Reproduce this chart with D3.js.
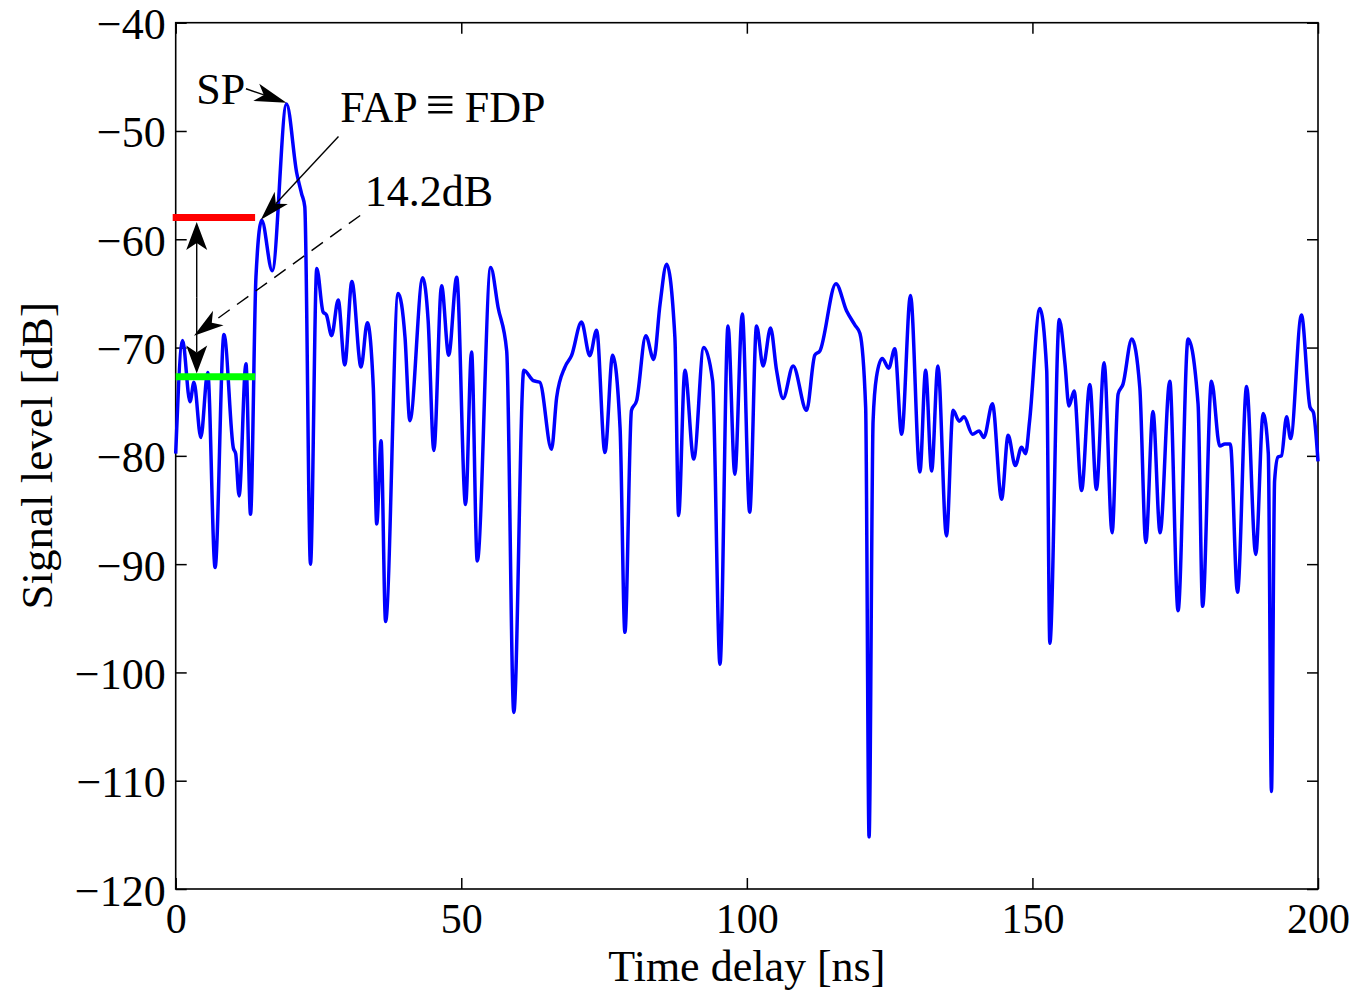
<!DOCTYPE html>
<html>
<head>
<meta charset="utf-8">
<script src="https://cdn.jsdelivr.net/npm/d3@7"></script>
<style>
  body { margin: 0; background: #fff; }
  text { font-family: 'Liberation Serif', 'Times New Roman', serif; fill: #000; }
</style>
</head>
<body>
<div id="chart"></div>
<script>
// time delay [ns] and signal level [dB]
let delayNs = [
  0, 1.2, 2.5, 3.2, 4.4, 5.6, 6.9, 8.45, 10.1, 10.5, 11.1, 12.3, 13.1, 14.05, 15.05, 16.9,
  19.4, 21.2, 22.05, 22.6, 23.6, 24.7, 25.8, 26.4, 27.3, 28.45, 29.6, 30.85, 32.45, 33.55,
  34.6, 35.2, 35.95, 36.75, 38.95, 40.15, 41.0, 43.25, 44.2, 45.2, 46.55, 47.8, 49.2, 50.75,
  51.8, 52.8, 55.15, 56.45, 57.95, 59.2, 60.95, 62.6, 63.75, 65.8, 66.7, 68.15, 69.3, 71.05,
  72.5, 73.7, 75.15, 76.5, 77.8, 78.65, 79.8, 80.7, 82.3, 83.7, 84.8, 85.95, 87.4, 88.05,
  89.15, 90.7, 92.45, 94.0, 95.3, 96.7, 97.9, 99.2, 100.5, 101.7, 102.85, 104.15, 105.2,
  106.35, 108.1, 110.45, 111.9, 112.8, 115.6, 117.45, 118.9, 119.8, 120.8, 121.4, 122.1,
  122.7, 123.7, 124.85, 125.9, 127.1, 128.65, 130.3, 131.3, 132.35, 133.45, 134.95, 136.1,
  137.2, 138.0, 139.5, 140.65, 141.5, 143.0, 144.6, 145.75, 147.0, 148.1, 148.8, 149.5,
  151.3, 152.5, 153.05, 154.7, 155.7, 156.4, 157.3, 158.6, 160.05, 161.2, 162.55, 163.95,
  165.0, 165.85, 167.4, 168.8, 169.85, 171.1, 172.35, 174.05, 175.5, 177.25, 179.0, 179.8,
  181.35, 182.8, 183.7, 184.65, 185.9, 187.5, 189.1, 190.4, 191.3, 191.85, 192.4, 193.0,
  193.6, 194.5, 195.2, 197.1, 198.6, 199.2, 200
]
let levelDb = [
  -79.8, -69.35, -75.0, -73.2, -78.3, -72.3, -90.3, -68.8, -79.3, -79.8, -83.7, -71.5, -85.4, -63.5, -58.25, -62.9,
  -47.5, -53.9, -55.8, -57.0, -90.0, -62.7, -66.7, -67.0, -68.9, -65.6, -71.6, -63.9, -71.8, -67.7,
  -73.7, -86.3, -78.6, -95.3, -65.0, -69.05, -76.75, -63.55, -67.5, -79.5, -64.3, -70.7, -63.5, -84.5,
  -70.4, -89.7, -62.6, -66.3, -70.3, -103.7, -72.1, -73.05, -73.2, -79.4, -74.6, -71.8, -70.75, -67.65,
  -70.75, -68.4, -79.7, -70.7, -77.4, -96.3, -75.8, -74.9, -68.9, -71.1, -66.0, -62.3, -69.05, -85.5,
  -72.1, -80.3, -70.0, -73.05, -99.25, -68.0, -81.7, -66.9, -85.2, -68.0, -71.7, -68.2, -72.1,
  -74.7, -71.7, -75.8, -70.7, -70.3, -64.1, -66.6, -67.9, -68.7, -75.5, -115.2, -76.8,
  -72.7, -71.0, -71.9, -70.1, -78.0, -65.2, -81.5, -72.1, -81.4, -71.7, -87.4, -75.8,
  -76.8, -76.4, -78.0, -77.7, -78.3, -75.2, -84.0, -78.1, -80.9, -79.2, -79.8, -76.8,
  -66.4, -72.1, -97.3, -67.4, -71.5, -75.4, -74.0, -83.2, -73.4, -83.1, -71.4, -87.1,
  -74.3, -73.4, -69.2, -73.7, -88.0, -75.9, -87.1, -73.1, -94.3, -69.2, -75.2, -93.9,
  -73.1, -79.1, -78.9, -78.9, -92.6, -73.6, -89.1, -76.1, -79.8, -111.0, -82.3, -80.1,
  -80.0, -76.4, -78.4, -67.0, -75.5, -76.0, -80.5
]

let xTicks = [0, 50, 100, 150, 200]
let yTicks = [-40, -50, -60, -70, -80, -90, -100, -110, -120]

// reference levels: first arriving path and noise floor
let fapLevel = -58.0
let noiseLevel = -72.7
let levelSpan = [0, 13.9]

let margin = { top: 22.7, left: 175.7, right: 40, bottom: 104 }
let width = 1358 - margin.left - margin.right
let height = 993 - margin.top - margin.bottom

let svg = d3
  .select('#chart')
  .append('svg')
  .attr('width', 1358)
  .attr('height', 993)
  .append('g')
  .attr('transform', 'translate(' + margin.left + ',' + margin.top + ')')

let xScale = d3.scaleLinear().domain([0, 200]).range([0, width])
let yScale = d3.scaleLinear().domain([-120, -40]).range([height, 0])

let points = delayNs.map((t, i) => ({ t: t, v: levelDb[i] }))

// axes: ticks point inward on all four sides
let tickLen = 11
let fmt = d3.format('d')

let xAxisBottom = svg
  .append('g')
  .attr('transform', 'translate(0,' + height + ')')
  .call(d3.axisBottom(xScale).tickValues(xTicks).tickSizeInner(-tickLen).tickSizeOuter(0).tickFormat(fmt))
let xAxisTop = svg
  .append('g')
  .call(d3.axisTop(xScale).tickValues(xTicks).tickSizeInner(-tickLen).tickSizeOuter(0).tickFormat(''))
let yAxisLeft = svg
  .append('g')
  .call(d3.axisLeft(yScale).tickValues(yTicks).tickSizeInner(-tickLen).tickSizeOuter(0).tickFormat(fmt))
let yAxisRight = svg
  .append('g')
  .attr('transform', 'translate(' + width + ',0)')
  .call(d3.axisRight(yScale).tickValues(yTicks).tickSizeInner(-tickLen).tickSizeOuter(0).tickFormat(''))

svg.selectAll('.domain').remove()
svg.selectAll('.tick line').attr('stroke', '#000').attr('stroke-width', 1.5)

xAxisBottom
  .selectAll('text')
  .attr('font-size', 42)
  .attr('dy', null)
  .attr('y', 44)
yAxisLeft
  .selectAll('text')
  .attr('font-size', 44)
  .attr('dy', null)
  .attr('y', 16)
  .attr('x', -10)

// frame
svg
  .append('rect')
  .attr('width', width)
  .attr('height', height)
  .attr('fill', 'none')
  .attr('stroke', '#000')
  .attr('stroke-width', 1.6)

// axis titles
svg
  .append('text')
  .attr('x', width / 2)
  .attr('y', height + 92)
  .attr('text-anchor', 'middle')
  .attr('font-size', 44)
  .text('Time delay [ns]')

svg
  .append('text')
  .attr('transform', 'translate(' + (52 - margin.left) + ',' + height / 2 + ') rotate(-90)')
  .attr('text-anchor', 'middle')
  .attr('font-size', 45)
  .text('Signal level [dB]')

// signal
let line = d3
  .line()
  .x(d => xScale(d.t))
  .y(d => yScale(d.v))
  .curve(d3.curveMonotoneX)

svg
  .append('path')
  .datum(points)
  .attr('d', line)
  .attr('fill', 'none')
  .attr('stroke', '#0000ff')
  .attr('stroke-width', 3.5)
  .attr('stroke-linejoin', 'round')

// level markers
svg
  .append('line')
  .attr('x1', xScale(levelSpan[0]) - 3)
  .attr('x2', xScale(levelSpan[1]))
  .attr('y1', yScale(fapLevel))
  .attr('y2', yScale(fapLevel))
  .attr('stroke', '#ff0000')
  .attr('stroke-width', 7)

svg
  .append('line')
  .attr('x1', xScale(levelSpan[0]))
  .attr('x2', xScale(levelSpan[1]))
  .attr('y1', yScale(noiseLevel))
  .attr('y2', yScale(noiseLevel))
  .attr('stroke', '#00ff00')
  .attr('stroke-width', 7)

// arrow helper: shaft from a to b, notched head at b
function arrow(a, b, opts) {
  let x1 = xScale(a[0]), y1 = yScale(a[1])
  let x2 = xScale(b[0]), y2 = yScale(b[1])
  let len = opts.len || 28
  let half = opts.half || 10
  let notch = opts.notch || 7
  let dx = x2 - x1, dy = y2 - y1
  let n = Math.sqrt(dx * dx + dy * dy)
  let ux = dx / n, uy = dy / n
  let px = -uy, py = ux

  svg
    .append('line')
    .attr('x1', x1)
    .attr('y1', y1)
    .attr('x2', x2 - ux * (len - notch))
    .attr('y2', y2 - uy * (len - notch))
    .attr('stroke', '#000')
    .attr('stroke-width', 1.4)
    .attr('stroke-dasharray', opts.dash || null)

  let head = [
    [x2, y2],
    [x2 - ux * len + px * half, y2 - uy * len + py * half],
    [x2 - ux * (len - notch), y2 - uy * (len - notch)],
    [x2 - ux * len - px * half, y2 - uy * len - py * half]
  ]
  svg
    .append('path')
    .attr('d', 'M' + head.map(p => p.join(',')).join('L') + 'Z')
    .attr('fill', '#000')
}

// SP
svg
  .append('text')
  .attr('x', xScale(3.6))
  .attr('y', yScale(-47.5))
  .attr('font-size', 44)
  .text('SP')
arrow([12.3, -46.1], [19.4, -47.4], { len: 32, half: 9, notch: 8 })

// FAP = FDP
svg
  .append('text')
  .attr('x', xScale(28.8))
  .attr('y', yScale(-49.2))
  .attr('font-size', 44)
  .text('FAP')
svg
  .append('text')
  .attr('x', xScale(46.3))
  .attr('y', yScale(-49.2))
  .attr('text-anchor', 'middle')
  .attr('font-size', 52)
  .text('\u2261')
svg
  .append('text')
  .attr('x', xScale(50.6))
  .attr('y', yScale(-49.2))
  .attr('font-size', 44)
  .text('FDP')
arrow([28.5, -50.5], [14.9, -58.2], { len: 30, half: 9, notch: 8 })

// 14.2dB
svg
  .append('text')
  .attr('x', xScale(33.1))
  .attr('y', yScale(-56.9))
  .attr('font-size', 44)
  .text('14.2dB')
arrow([32.3, -57.8], [3.2, -68.9], { len: 30, half: 9, notch: 8, dash: '14,9' })

// vertical double arrow between the two levels
arrow([3.68, -65.4], [3.68, -58.4], { len: 28, half: 10.5, notch: 7 })
arrow([3.68, -65.4], [3.68, -72.4], { len: 28, half: 10.5, notch: 7 })
</script>
</body>
</html>
